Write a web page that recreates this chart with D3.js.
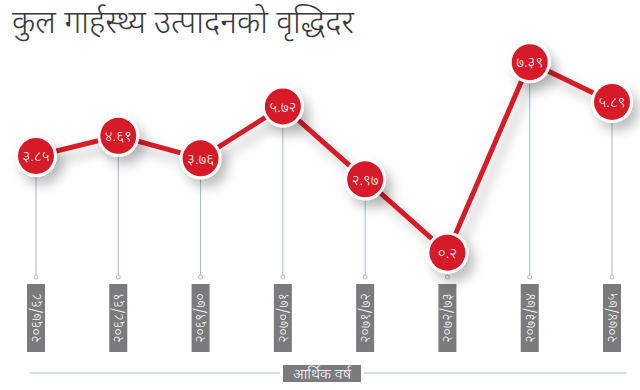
<!DOCTYPE html>
<html>
<head>
<meta charset="utf-8">
<script src="https://cdn.jsdelivr.net/npm/d3@7"></script>
<style>
  body { margin: 0; background: #fff; }
  svg { display: block; font-family: "Noto Sans Devanagari", "Noto Sans", "Lohit Devanagari", sans-serif; }
</style>
</head>
<body>
<svg width="640" height="390"></svg>
<script>
// financial years (categories)
var years = ["२०६७/६८", "२०६८/६९", "२०६९/७०", "२०७०/७१", "२०७१/७२", "२०७२/७३", "२०७३/७४", "२०७४/७५"];
// growth rate, percent
var growth = [3.85, 4.61, 3.76, 5.72, 2.97, 0.2, 7.39, 5.89];
// labels printed in the circles
var growthLabels = ["३.८५", "४.६१", "३.७६", "५.७२", "२.९७", "०.२", "७.३९", "५.८९"];

var title = "कुल गार्हस्थ्य उत्पादनको वृद्धिदर";
var axisTitle = "आर्थिक वर्ष";

var red = "#d71a28";
var blue = "#a3bbd9";
var grey = "#7b7b7d";

var svg = d3.select("svg");

var translate = function(x, y) {
  return "translate(" + String(x) + ", " + String(y) + ")";
};

var data = years.map(function(y, i) {
  return { year: y, value: growth[i], label: growthLabels[i] };
});

var x = d3.scalePoint().domain(years).range([36, 612]);
var y = d3.scaleLinear().domain([0, 8]).range([258, 46]);

var r = 18;
var dotY = 277;

// shadow filter
var defs = svg.append("defs");
var f = defs.append("filter").attr("id", "shadow")
  .attr("x", "-60%").attr("y", "-60%").attr("width", "220%").attr("height", "220%");
f.append("feDropShadow")
  .attr("dx", 6).attr("dy", 8).attr("stdDeviation", 6)
  .attr("flood-color", "#000").attr("flood-opacity", 0.25);

// title
svg.append("text")
  .attr("x", 12).attr("y", 33)
  .attr("font-size", 32)
  .attr("font-weight", 300)
  .attr("fill", "#3a3a3a")
  .text(title);

// drop lines from circles to the year labels
var drops = svg.append("g");
drops.selectAll("line")
  .data(data)
  .enter().append("line")
  .attr("x1", function(d) { return x(d.year); })
  .attr("x2", function(d) { return x(d.year); })
  .attr("y1", function(d) { return y(d.value) + r; })
  .attr("y2", dotY)
  .attr("stroke", blue)
  .attr("stroke-width", 1);
drops.selectAll("circle")
  .data(data)
  .enter().append("circle")
  .attr("cx", function(d) { return x(d.year); })
  .attr("cy", dotY)
  .attr("r", 2)
  .attr("fill", "#fff")
  .attr("stroke", blue)
  .attr("stroke-width", 1);

// year boxes with rotated text
var yearG = svg.append("g").selectAll("g")
  .data(data)
  .enter().append("g")
  .attr("transform", function(d) { return translate(x(d.year), 318); });
yearG.append("rect")
  .attr("x", -9).attr("y", -34)
  .attr("width", 18).attr("height", 68)
  .attr("fill", grey);
yearG.append("text")
  .attr("transform", "rotate(-90)")
  .attr("text-anchor", "middle")
  .attr("dy", "0.35em")
  .attr("font-size", 14)
  .attr("font-weight", 300)
  .attr("fill", "#fff")
  .text(function(d) { return d.year; });

// axis line with title
var axisY = 373;
svg.append("line")
  .attr("x1", 30).attr("x2", 627)
  .attr("y1", axisY).attr("y2", axisY)
  .attr("stroke", blue).attr("stroke-width", 1.2);
svg.append("rect")
  .attr("x", 280).attr("y", axisY - 10)
  .attr("width", 84).attr("height", 20)
  .attr("fill", "#fff");
svg.append("rect")
  .attr("x", 283).attr("y", axisY - 8)
  .attr("width", 78).attr("height", 17)
  .attr("fill", grey);
svg.append("text")
  .attr("x", 322).attr("y", axisY + 1)
  .attr("dy", "0.35em")
  .attr("text-anchor", "middle")
  .attr("font-size", 15)
  .attr("font-weight", 300)
  .attr("fill", "#fff")
  .text(axisTitle);

// growth line
var line = d3.line()
  .x(function(d) { return x(d.year); })
  .y(function(d) { return y(d.value); });

svg.append("path")
  .datum(data)
  .attr("d", line)
  .attr("fill", "none")
  .attr("stroke", red)
  .attr("stroke-width", 5)
  .attr("filter", "url(#shadow)");

// points
var pts = svg.append("g").selectAll("g")
  .data(data)
  .enter().append("g")
  .attr("transform", function(d) { return translate(x(d.year), y(d.value)); });
pts.append("circle")
  .attr("r", r + 3)
  .attr("fill", "#fff")
  .attr("filter", "url(#shadow)");
pts.append("circle")
  .attr("r", r)
  .attr("fill", red);
pts.append("text")
  .attr("text-anchor", "middle")
  .attr("dy", "0.35em")
  .attr("font-size", 15)
  .attr("font-weight", 300)
  .attr("fill", "#fff")
  .text(function(d) { return d.label; });
</script>
</body>
</html>
